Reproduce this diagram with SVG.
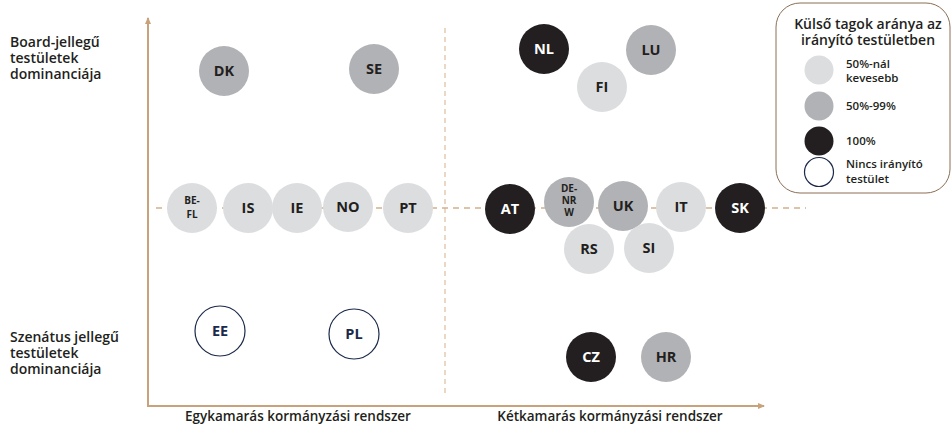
<svg xmlns="http://www.w3.org/2000/svg" width="952" height="425" viewBox="0 0 952 425">
<defs>
<style>
text{font-family:"Open Sans","Liberation Sans",sans-serif;fill:#231f20}
.lbl{font-size:14px;font-weight:600}
.n{font-size:14.5px;font-weight:700;text-anchor:middle}
.s{font-size:10px;font-weight:700;text-anchor:middle}
.w{fill:#ffffff}
.c1{fill:#dcdddf}
.c2{fill:#b1b2b5}
.c3{fill:#231f20}
.c0{fill:#ffffff;stroke:#1b2a4a;stroke-width:1.2}
.lg{font-size:11.5px;font-weight:600}
.lt{font-size:14px;font-weight:600;text-anchor:middle}
</style>
<marker id="ah" markerWidth="8" markerHeight="8" refX="6" refY="4" orient="auto" markerUnits="userSpaceOnUse">
<path d="M0,1 L7,4 L0,7 Z" fill="#c8a27a"/>
</marker>
</defs>
<rect width="952" height="425" fill="#ffffff"/>
<g id="connectors">
<line x1="445" y1="28" x2="445" y2="397" stroke="#d5b08a" stroke-width="1" stroke-dasharray="5,4"/>
<line x1="156" y1="208" x2="806" y2="208" stroke="#d5b08a" stroke-width="1.3" stroke-dasharray="6,5"/>
<line x1="148" y1="406" x2="148" y2="18" stroke="#c8a27a" stroke-width="2" marker-end="url(#ah)"/>
<line x1="147" y1="406" x2="764" y2="406" stroke="#c8a27a" stroke-width="2" marker-end="url(#ah)"/>
</g>
<g id="axis-labels">
<text class="lbl" x="10" y="47">Board-jellegű</text>
<text class="lbl" x="10" y="63">testületek</text>
<text class="lbl" x="10" y="79">dominanciája</text>
<text class="lbl" x="10" y="342">Szenátus jellegű</text>
<text class="lbl" x="10" y="358">testületek</text>
<text class="lbl" x="10" y="374">dominanciája</text>
<text class="lbl" x="298" y="421" text-anchor="middle" style="font-size:13.5px">Egykamarás kormányzási rendszer</text>
<text class="lbl" x="610" y="421" text-anchor="middle" style="font-size:13.5px">Kétkamarás kormányzási rendszer</text>
</g>
<g id="node-DK"><circle class="c2" cx="224" cy="71" r="25"/><text class="n" x="224" y="76">DK</text></g>
<g id="node-SE"><circle class="c2" cx="374" cy="69" r="25"/><text class="n" x="374" y="74">SE</text></g>
<g id="node-NL"><circle class="c3" cx="544" cy="49" r="25"/><text class="n w" x="544" y="54">NL</text></g>
<g id="node-LU"><circle class="c2" cx="651" cy="50" r="25"/><text class="n" x="651" y="55">LU</text></g>
<g id="node-FI"><circle class="c1" cx="602" cy="87" r="25"/><text class="n" x="602" y="92">FI</text></g>
<g id="node-BE-FL"><circle class="c1" cx="192" cy="208" r="25"/><text class="s" x="192" y="204">BE-</text><text class="s" x="192" y="218">FL</text></g>
<g id="node-IS"><circle class="c1" cx="248" cy="208" r="25"/><text class="n" x="248" y="213">IS</text></g>
<g id="node-IE"><circle class="c1" cx="297" cy="208" r="25"/><text class="n" x="297" y="213">IE</text></g>
<g id="node-NO"><circle class="c1" cx="348" cy="207" r="25"/><text class="n" x="348" y="212">NO</text></g>
<g id="node-PT"><circle class="c1" cx="408" cy="208" r="25"/><text class="n" x="408" y="213">PT</text></g>
<g id="node-AT"><circle class="c3" cx="510" cy="209" r="25"/><text class="n w" x="510" y="214">AT</text></g>
<g id="node-DE-NRW"><circle class="c2" cx="569" cy="202" r="25"/><text class="s" x="569" y="192">DE-</text><text class="s" x="569" y="204">NR</text><text class="s" x="569" y="216">W</text></g>
<g id="node-UK"><circle class="c2" cx="623" cy="206" r="25"/><text class="n" x="623" y="211">UK</text></g>
<g id="node-IT"><circle class="c1" cx="681" cy="207" r="25"/><text class="n" x="681" y="212">IT</text></g>
<g id="node-SK"><circle class="c3" cx="740" cy="208" r="25"/><text class="n w" x="740" y="213">SK</text></g>
<g id="node-RS"><circle class="c1" cx="589" cy="249" r="25"/><text class="n" x="589" y="254">RS</text></g>
<g id="node-SI"><circle class="c1" cx="649" cy="248" r="25"/><text class="n" x="649" y="253">SI</text></g>
<g id="node-EE"><circle class="c0" cx="220" cy="331" r="25"/><text class="n" x="220" y="336" style="fill:#1b2a4a">EE</text></g>
<g id="node-PL"><circle class="c0" cx="354" cy="334" r="25"/><text class="n" x="354" y="339" style="fill:#1b2a4a">PL</text></g>
<g id="node-CZ"><circle class="c3" cx="591" cy="357" r="25"/><text class="n w" x="591" y="362">CZ</text></g>
<g id="node-HR"><circle class="c2" cx="666" cy="357" r="25"/><text class="n" x="666" y="362">HR</text></g>
<g id="legend">
<rect x="776" y="3" width="174" height="190" rx="24" ry="24" fill="#ffffff" stroke="#8b6f55" stroke-width="1"/>
<text class="lt" x="868" y="29">Külső tagok aránya az</text>
<text class="lt" x="868" y="45">irányító  testületben</text>
<circle class="c1" cx="819" cy="70" r="14.5"/>
<circle class="c2" cx="819" cy="106" r="14.5"/>
<circle class="c3" cx="819" cy="141" r="14.5"/>
<circle class="c0" cx="819" cy="172" r="14.5"/>
<text class="lg" x="846" y="68">50%-nál</text>
<text class="lg" x="846" y="82">kevesebb</text>
<text class="lg" x="846" y="110">50%-99%</text>
<text class="lg" x="846" y="145">100%</text>
<text class="lg" x="846" y="168">Nincs irányító</text>
<text class="lg" x="846" y="183">testület</text>
</g>
</svg>
